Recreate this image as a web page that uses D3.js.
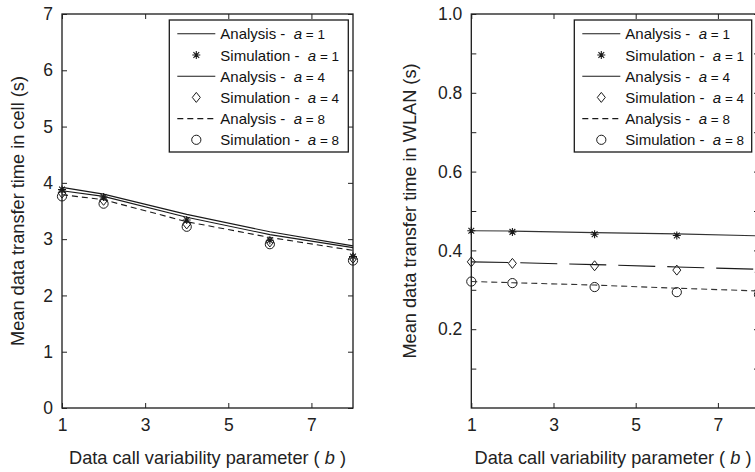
<!DOCTYPE html>
<html>
<head>
<meta charset="utf-8">
<script src="https://cdn.jsdelivr.net/npm/d3@7"></script>
<style>
  html, body { margin: 0; padding: 0; background: #fff; }
  svg { display: block; font-family: "Liberation Sans", Arial, Helvetica, sans-serif; }
  .tick text { font-size: 17.5px; fill: #222; }
  .tick line { stroke: #222; stroke-width: 1; }
  .axis-label { font-size: 18.2px; fill: #222; }
  .leg text { font-size: 15px; fill: #111; white-space: pre; }
</style>
</head>
<body>
<svg id="chart" width="755" height="472"></svg>
<script>
/* values */
const X_VALUES = [1, 2, 4, 6, 8];
const X_TICKS = [1, 3, 5, 7];

const CELL_Y_TICKS = [0, 1, 2, 3, 4, 5, 6, 7];
const CELL_ANALYSIS_A1 = [3.92, 3.80, 3.44, 3.13, 2.88];
const CELL_ANALYSIS_A4 = [3.86, 3.76, 3.39, 3.08, 2.85];
const CELL_ANALYSIS_A8 = [3.79, 3.70, 3.31, 3.03, 2.80];
const CELL_SIM_A1 = [3.88, 3.75, 3.34, 2.98, 2.69];
const CELL_SIM_A4 = [3.82, 3.69, 3.27, 2.95, 2.66];
const CELL_SIM_A8 = [3.76, 3.63, 3.22, 2.91, 2.62];

const WLAN_Y_TICKS = [0.1, 0.2, 0.3, 0.4, 0.5, 0.6, 0.7, 0.8, 0.9, 1.0];
const WLAN_Y_LABELS = ['', '0.2', '', '0.4', '', '0.6', '', '0.8', '', '1.0'];
const WLAN_ANALYSIS_A1 = [0.450, 0.449, 0.445, 0.442, 0.437];
const WLAN_ANALYSIS_A4 = [0.371, 0.369, 0.364, 0.358, 0.352];
const WLAN_ANALYSIS_A8 = [0.321, 0.318, 0.312, 0.304, 0.297];
const WLAN_SIM_A1 = [0.450, 0.447, 0.441, 0.438, 0.436];
const WLAN_SIM_A4 = [0.371, 0.367, 0.361, 0.350, 0.345];
const WLAN_SIM_A8 = [0.321, 0.317, 0.307, 0.294, 0.288];

const LEGEND_ROWS = [
  { name: 'Analysis -  ', a: '1', kind: 'line', dash: null },
  { name: 'Simulation -  ', a: '1', kind: 'star' },
  { name: 'Analysis -  ', a: '4', kind: 'line', dash: null },
  { name: 'Simulation -  ', a: '4', kind: 'diamond' },
  { name: 'Analysis -  ', a: '8', kind: 'line', dash: '6,4' },
  { name: 'Simulation -  ', a: '8', kind: 'circle' }
];

const svg = d3.select('#chart');
const INK = '#1a1a1a';

// marker drawing helpers
function marker(sel, kind, cx, cy) {
  if (kind === 'star') {
    const r = 4, d = r * 0.72;
    sel.append('path')
      .attr('d', `M${cx - r},${cy}H${cx + r}M${cx},${cy - r}V${cy + r}` +
        `M${cx - d},${cy - d}L${cx + d},${cy + d}M${cx - d},${cy + d}L${cx + d},${cy - d}`)
      .attr('stroke', INK).attr('stroke-width', 1.1).attr('fill', 'none');
  } else if (kind === 'diamond') {
    const r = 5;
    sel.append('path')
      .attr('d', `M${cx},${cy - r}L${cx + r * 0.8},${cy}L${cx},${cy + r}L${cx - r * 0.8},${cy}Z`)
      .attr('stroke', INK).attr('stroke-width', 1).attr('fill', 'none');
  } else if (kind === 'circle') {
    sel.append('circle').attr('cx', cx).attr('cy', cy).attr('r', 4.6)
      .attr('stroke', INK).attr('stroke-width', 1).attr('fill', 'none');
  }
}

function drawPanel(p) {
  const x = d3.scaleLinear().domain([1, 8]).range([p.left, p.right]);
  const y = d3.scaleLinear().domain(p.yDomain).range([408, 14]);
  const g = svg.append('g');

  // analysis curves
  const line = d3.line().x((d, i) => x(X_VALUES[i])).y(d => y(d));
  p.lines.forEach(s => {
    g.append('path').attr('d', line(s.values))
      .attr('fill', 'none').attr('stroke', s.color || INK).attr('stroke-width', 1.1)
      .attr('stroke-dasharray', s.dash);
  });

  // simulation points
  p.points.forEach(s => {
    s.values.forEach((v, i) => marker(g, s.kind, x(X_VALUES[i]), y(v)));
  });

  // frame and inward ticks on all sides
  g.append('rect').attr('x', p.left).attr('y', 14)
    .attr('width', p.right - p.left).attr('height', 394)
    .attr('fill', 'none').attr('stroke', INK).attr('stroke-width', 1.3);

  g.append('g').attr('transform', 'translate(0,408)')
    .call(d3.axisBottom(x).tickValues(X_TICKS).tickFormat(d3.format('d'))
      .tickSizeInner(-5).tickSizeOuter(0).tickPadding(11));
  g.append('g').attr('transform', 'translate(0,14)')
    .call(d3.axisTop(x).tickValues(X_TICKS).tickSizeInner(-5).tickSizeOuter(0).tickFormat(''));
  g.append('g').attr('transform', `translate(${p.left},0)`)
    .call(d3.axisLeft(y).tickValues(p.yTicks).tickSizeInner(-5).tickSizeOuter(0).tickPadding(9)
      .tickFormat((d, i) => p.yLabels[i]));
  g.append('g').attr('transform', `translate(${p.right},0)`)
    .call(d3.axisRight(y).tickValues(p.yTicks).tickSizeInner(-5).tickSizeOuter(0).tickFormat(''));
  g.selectAll('.domain').remove();

  // axis titles
  const xl = g.append('text').attr('class', 'axis-label')
    .attr('x', p.xLabelX).attr('y', 464).attr('text-anchor', 'middle')
    .style('white-space', 'pre');
  xl.append('tspan').text('Data call variability parameter ( ');
  xl.append('tspan').attr('font-style', 'italic').text('b');
  xl.append('tspan').text(' )');

  g.append('text').attr('class', 'axis-label')
    .attr('transform', `translate(${p.yLabelX},211) rotate(-90)`)
    .attr('text-anchor', 'middle').text(p.yTitle);

  // legend
  const lg = g.append('g').attr('class', 'leg');
  lg.append('rect').attr('x', p.legX).attr('y', 20).attr('width', p.legW).attr('height', 132)
    .attr('fill', '#fff').attr('stroke', INK).attr('stroke-width', 1.3);
  LEGEND_ROWS.forEach((r, i) => {
    const cy = 33.8 + i * 21.2;
    if (r.kind === 'line') {
      lg.append('line').attr('x1', p.legX + 8).attr('x2', p.legX + 46)
        .attr('y1', cy).attr('y2', cy).attr('stroke', INK).attr('stroke-width', 1.1)
        .attr('stroke-dasharray', r.dash);
    } else {
      marker(lg, r.kind, p.legX + 27, cy);
    }
    const t = lg.append('text').attr('x', p.legX + 51).attr('y', cy + 5.5);
    t.append('tspan').text(r.name);
    t.append('tspan').attr('font-style', 'italic').text('a');
    t.append('tspan').attr('font-size', '13.5px').text(' = ' + r.a);
  });
}

drawPanel({
  left: 62, right: 353, yDomain: [0, 7],
  yTicks: CELL_Y_TICKS, yLabels: CELL_Y_TICKS.map(String),
  yTitle: 'Mean data transfer time in cell (s)', yLabelX: 24, xLabelX: 207.5,
  legX: 169.3, legW: 179,
  lines: [
    { values: CELL_ANALYSIS_A1 },
    { values: CELL_ANALYSIS_A4 },
    { values: CELL_ANALYSIS_A8, dash: '6,4' }
  ],
  points: [
    { values: CELL_SIM_A8, kind: 'circle' },
    { values: CELL_SIM_A4, kind: 'diamond' },
    { values: CELL_SIM_A1, kind: 'star' }
  ]
});

drawPanel({
  left: 471.3, right: 759, yDomain: [0, 1],
  yTicks: WLAN_Y_TICKS, yLabels: WLAN_Y_LABELS,
  yTitle: 'Mean data transfer time in WLAN (s)', yLabelX: 416, xLabelX: 613,
  legX: 574.3, legW: 177.4,
  lines: [
    { values: WLAN_ANALYSIS_A1, color: '#333' },
    { values: WLAN_ANALYSIS_A4, dash: '37,12' },
    { values: WLAN_ANALYSIS_A8, dash: '6,4', color: '#333' }
  ],
  points: [
    { values: WLAN_SIM_A1, kind: 'star' },
    { values: WLAN_SIM_A4, kind: 'diamond' },
    { values: WLAN_SIM_A8, kind: 'circle' }
  ]
});
</script>
</body>
</html>
